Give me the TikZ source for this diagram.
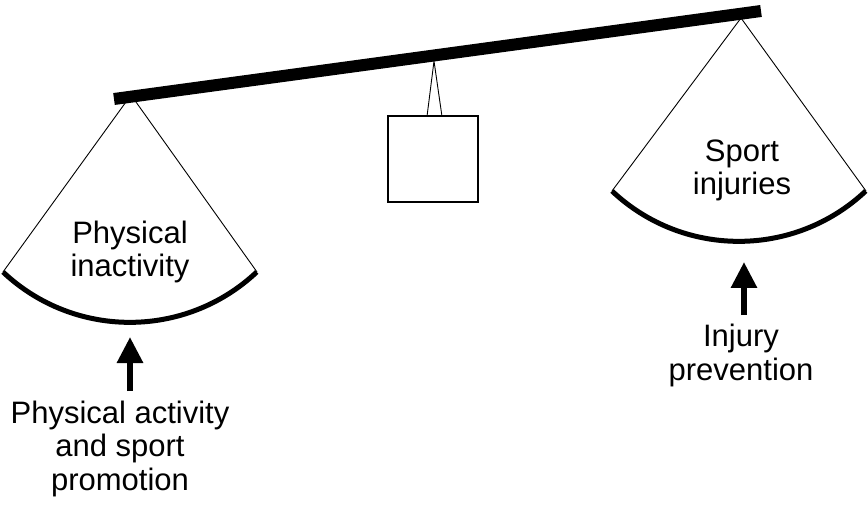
\documentclass[tikz,border=0pt]{standalone}
\usepackage{fontspec}
\setmainfont{Liberation Sans}
\usetikzlibrary{arrows.meta}
\begin{document}
\begin{tikzpicture}[x=1pt,y=1pt,
  rope/.style={line width=0.9pt},
  pan/.style={line width=5pt},
  lbl/.style={align=center,anchor=base,inner sep=0pt,font=\fontsize{31}{33.5}\selectfont},
  push/.style={line width=6pt,-{Triangle[length=26pt,width=25pt]}}]
\useasboundingbox (0,0) rectangle (868,-505);
% beam ends and pan points
\coordinate (bl) at (114,-99);
\coordinate (br) at (761,-11);
\coordinate (la) at (131,-95);
\coordinate (ll) at (3,-272);
\coordinate (lr) at (257,-272);
\coordinate (ra) at (741,-18);
\coordinate (rl) at (612,-191);
\coordinate (rr) at (866,-191);
% ropes
\draw[rope] (ll) -- (la) -- (lr);
\draw[rope] (rl) -- (ra) -- (rr);
% pans
\draw[pan] (ll) arc[start angle=226.7, end angle=313.3, radius=185];
\draw[pan] (rl) arc[start angle=226.7, end angle=313.3, radius=185];
% beam
\draw[line width=12pt] (bl) -- (br);
% weight
\node[draw,line width=2pt,minimum width=90pt,minimum height=86pt,inner sep=0pt] (box) at (433,-159.5) {};
\coordinate (hk) at (434,-61);
\coordinate (t1) at (427,-116.5);
\coordinate (t2) at (442,-116.5);
\draw[rope] (t1) -- (hk) -- (t2);
% arrows
\coordinate (a1s) at (130,-391);
\coordinate (a1t) at (130,-337);
\coordinate (a2s) at (744,-315);
\coordinate (a2t) at (744,-262);
\draw[push] (a1s) -- (a1t);
\draw[push] (a2s) -- (a2t);
% labels (anchored at the baseline of the last line)
\node[lbl] (inact) at (130,-277) {Physical\\inactivity};
\node[lbl] (inj) at (742,-195) {Sport\\injuries};
\node[lbl] (prev) at (741,-380) {Injury\\prevention};
\node[lbl] (promo) at (120,-490) {Physical activity\\and sport\\promotion};
\end{tikzpicture}
\end{document}
